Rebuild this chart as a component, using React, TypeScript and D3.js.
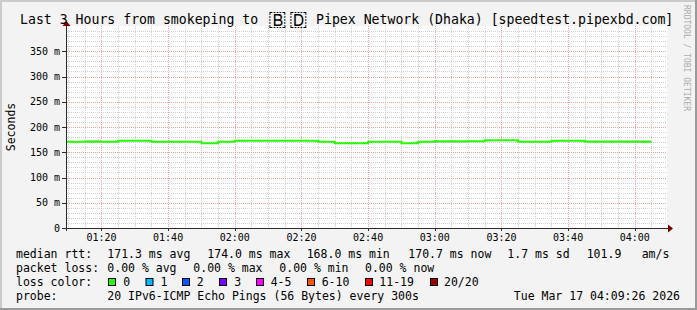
import React from 'react';
import * as d3 from 'd3';

const W = 697;
const H = 310;

// time window (3 hours) and data slots (5 min each)
const viewStart = new Date(2026, 2, 17, 1, 9, 40);
const viewEnd = new Date(2026, 2, 17, 4, 9, 40);
const firstSlot = new Date(2026, 2, 17, 1, 5, 0);
const stepMinutes = 5;

const medianRtt = [
  170.7, 170.7, 170.7, 170.7, 172.6, 172.6, 170.7, 170.7, 170.7, 168.0,
  170.7, 172.6, 172.6, 172.6, 172.6, 172.6, 170.7, 168.0, 168.0, 170.7,
  170.7, 168.0, 170.7, 172.0, 172.0, 172.0, 174.0, 174.0, 170.7, 170.7,
  172.6, 172.6, 170.7, 170.7, 170.7, 170.7,
];
const smokeLo = [
  170.7, 170.7, 170.7, 170.7, 172.6, 172.6, 170.7, 170.7, 170.7, 168.0,
  170.7, 172.6, 172.6, 172.6, 172.6, 172.6, 170.7, 168.0, 168.0, 170.7,
  170.7, 168.0, 170.7, 168.6, 168.6, 172.0, 174.0, 174.0, 170.7, 170.7,
  172.6, 172.6, 170.7, 170.7, 170.7, 170.7,
];
const smokeHi = [
  170.7, 170.7, 174.5, 170.7, 172.6, 172.6, 170.7, 170.7, 170.7, 168.0,
  170.7, 172.6, 172.6, 172.6, 172.6, 172.6, 170.7, 168.0, 168.0, 170.7,
  170.7, 168.0, 170.7, 172.0, 172.0, 172.0, 174.0, 174.0, 170.7, 170.7,
  172.6, 172.6, 173.6, 173.6, 173.6, 173.6,
];
const lossPings = [
  0, 0, 0, 0, 0, 0, 0, 0, 0, 0, 0, 0, 0, 0, 0, 0, 0, 0, 0, 0,
  0, 0, 0, 0, 0, 0, 0, 0, 0, 0, 0, 0, 0, 0, 0, 0,
];

const yTicks = [0, 50, 100, 150, 200, 250, 300, 350];
const yMax = 400;

const lossLabels = ['0', '1', '2', '3', '4-5', '6-10', '11-19', '20/20'];
const lossUpper = [0, 1, 2, 3, 5, 10, 19, 20];
const lossColors = ['#26ff00', '#00b8ff', '#0059ff', '#7e00ff', '#ff00ff', '#ff5500', '#ff0000', '#a00000'];
const lossBoxX = [108, 145.5, 182, 219, 256, 307, 365, 430];
const lossTextX = [123.3, 160.5, 196.7, 234.3, 270.7, 321.7, 379.3, 444];

const titleLeft = 'Last 3 Hours from smokeping to ';
const titleFlagParts = ['\u{1F1E7}', '\u{1F1E9}'];
const titleFlagX = [268, 289];
const titleRight = 'Pipex Network (Dhaka) [speedtest.pipexbd.com]';

const rttRow = [
  { t: '171.3 ms avg', x: 107.3 },
  { t: '174.0 ms max', x: 207.3 },
  { t: '168.0 ms min', x: 306.7 },
  { t: '170.7 ms now', x: 408.3 },
  { t: '1.7 ms sd', x: 507.3 },
  { t: '101.9', x: 586.7 },
  { t: 'am/s', x: 641.7 },
];
const lossRow = [
  { t: '0.00 % avg', x: 107.3 },
  { t: '0.00 % max', x: 193.3 },
  { t: '0.00 % min', x: 279.3 },
  { t: '0.00 % now', x: 365 },
];
const probeText = '20 IPv6-ICMP Echo Pings (56 Bytes) every 300s';
const stampText = 'Tue Mar 17 04:09:26 2026';

const MONO = '"DejaVu Sans Mono", monospace';

export default function App() {
  const x0 = 67, x1 = 667, y0 = 228, y1 = 26;
  const x = d3.scaleTime().domain([viewStart, viewEnd]).range([x0, x1]);
  const y = d3.scaleLinear().domain([0, yMax]).range([y0, y1]);
  const px = (v: number) => Math.round(v) + 0.5;

  const slotStart = (i: number) => d3.timeMinute.offset(firstSlot, i * stepMinutes);

  const minorX = d3.timeMinute.every(5)!.range(viewStart, viewEnd);
  const majorX = d3.timeMinute.every(20)!.range(viewStart, viewEnd);
  const minorY = d3.range(10, yMax, 10);
  const fmt = d3.timeFormat('%H:%M');

  const lossColor = (n: number) => {
    const idx = lossUpper.findIndex((u) => n <= u);
    return lossColors[idx < 0 ? lossColors.length - 1 : idx];
  };

  const pts: [Date, number][] = medianRtt.map((v, i) => [slotStart(i), v]);
  pts.push([slotStart(medianRtt.length), medianRtt[medianRtt.length - 1]]);
  const line = d3
    .line<[Date, number]>()
    .x((d) => x(d[0]))
    .y((d) => y(d[1]))
    .curve(d3.curveStepAfter);

  const lineColor = lossColor(d3.max(lossPings) as number);

  return (
    <svg
      width={W}
      height={H}
      style={{ position: 'absolute', left: 0, top: 0, display: 'block' }}
      fontFamily={MONO}
    >
      <defs>
        <clipPath id="plotclip">
          <rect x={x0} y={y1} width={x1 - x0} height={y0 - y1} />
        </clipPath>
      </defs>
      {/* background + frame */}
      <rect x={0} y={0} width={W} height={H} fill="#f3f3f3" />
      <path d={`M0,1H${W} M1,0V${H}`} stroke="#cbcbcb" strokeWidth={2} />
      <path d={`M0,${H - 1}H${W} M${W - 1},0V${H}`} stroke="#9a9a9a" strokeWidth={2} />
      <rect x={x0} y={y1} width={x1 - x0} height={y0 - y1} fill="#ffffff" />

      {/* minor grid */}
      <g stroke="#cfcfcf" strokeWidth={1} strokeDasharray="1,1">
        {minorY.filter((v) => v % 50 !== 0).map((v) => (
          <line key={'my' + v} x1={x0} x2={x1} y1={px(y(v))} y2={px(y(v))} />
        ))}
        {minorX.filter((d) => d.getMinutes() % 20 !== 0).map((d) => (
          <line key={'mx' + +d} x1={px(x(d))} x2={px(x(d))} y1={y1} y2={y0} />
        ))}
      </g>
      {/* major grid */}
      <g stroke="#f4a3a3" strokeWidth={1} strokeDasharray="1,1">
        {yTicks.filter((v) => v > 0).map((v) => (
          <line key={'My' + v} x1={x0} x2={x1} y1={px(y(v))} y2={px(y(v))} />
        ))}
        {majorX.map((d) => (
          <line key={'Mx' + +d} x1={px(x(d))} x2={px(x(d))} y1={y1} y2={y0} />
        ))}
      </g>

      {/* smoke */}
      <g clipPath="url(#plotclip)">
        {medianRtt.map((_, i) => {
          const a = x(slotStart(i));
          const b = x(slotStart(i + 1));
          const top = y(smokeHi[i]);
          const bot = y(smokeLo[i]);
          if (bot - top < 0.5) return null;
          return <rect key={'s' + i} x={a} width={b - a} y={top} height={bot - top} fill="#c4c4c4" />;
        })}
        <path d={line(pts) || ''} fill="none" stroke={lineColor} strokeWidth={2} />
      </g>

      {/* axes */}
      <g stroke="#2c2c2c" strokeWidth={1}>
        <line x1={x0 - 4} x2={x1 + 2} y1={y0 + 0.5} y2={y0 + 0.5} />
        <line x1={x0 - 0.5} x2={x0 - 0.5} y1={y0 + 3} y2={y1 - 2} />
        {yTicks.map((v) => (
          <line key={'ty' + v} x1={x0 - 5} x2={x0} y1={px(y(v))} y2={px(y(v))} />
        ))}
        {majorX.map((d) => (
          <line key={'tx' + +d} x1={px(x(d))} x2={px(x(d))} y1={y0} y2={y0 + 3} />
        ))}
      </g>
      <path d={`M${x1 + 1},${y0 - 3.5}L${x1 + 6},${y0 + 0.5}L${x1 + 1},${y0 + 4.5}Z`} fill="#7f0000" />
      <path d={`M${x0 - 4.5},${y1}L${x0 - 0.5},${y1 - 5}L${x0 + 3.5},${y1}Z`} fill="#7f0000" />

      {/* tick labels */}
      <g fontSize={10} fill="#000">
        {yTicks.map((v) => (
          <text key={'ly' + v} x={60} y={y(v) + 3.7} textAnchor="end">
            {v === 0 ? '0' : `${v} m`}
          </text>
        ))}
        {majorX.map((d) => (
          <text key={'lx' + +d} x={x(d)} y={241} textAnchor="middle">
            {fmt(d)}
          </text>
        ))}
      </g>

      {/* titles */}
      <g fontSize={13.2} fill="#000">
        <text x={20} y={23.5}>{titleLeft}</text>
        {titleFlagParts.map((c, i) => (
          <text key={'f' + i} x={titleFlagX[i]} y={26} fontSize={21}>{c}</text>
        ))}
        <text x={316} y={23.5}>{titleRight}</text>
      </g>
      <text
        transform="translate(15,127) rotate(-90)"
        textAnchor="middle"
        fontSize={11.5}
        fill="#000"
      >
        Seconds
      </text>
      <text transform="translate(684,5) rotate(90)" fontSize={8} fill="#acacac">
        RRDTOOL / TOBI OETIKER
      </text>

      {/* legend */}
      <g fontSize={11.5} fill="#000">
        <text x={16} y={257.5}>median rtt:</text>
        {rttRow.map((s) => (
          <text key={s.t + s.x} x={s.x} y={257.5}>{s.t}</text>
        ))}
        <text x={16} y={271.5}>packet loss:</text>
        {lossRow.map((s) => (
          <text key={s.t + s.x} x={s.x} y={271.5}>{s.t}</text>
        ))}
        <text x={16} y={285.5}>loss color:</text>
        {lossLabels.map((l, i) => (
          <g key={'lc' + l}>
            <rect x={lossBoxX[i] + 0.5} y={278.5} width={7} height={7} fill={lossColors[i]} stroke="#000" />
            <text x={lossTextX[i]} y={285.5}>{l}</text>
          </g>
        ))}
        <text x={16} y={299.5}>probe:</text>
        <text x={107.3} y={299.5}>{probeText}</text>
        <text x={680} y={299.5} textAnchor="end">{stampText}</text>
      </g>
    </svg>
  );
}
